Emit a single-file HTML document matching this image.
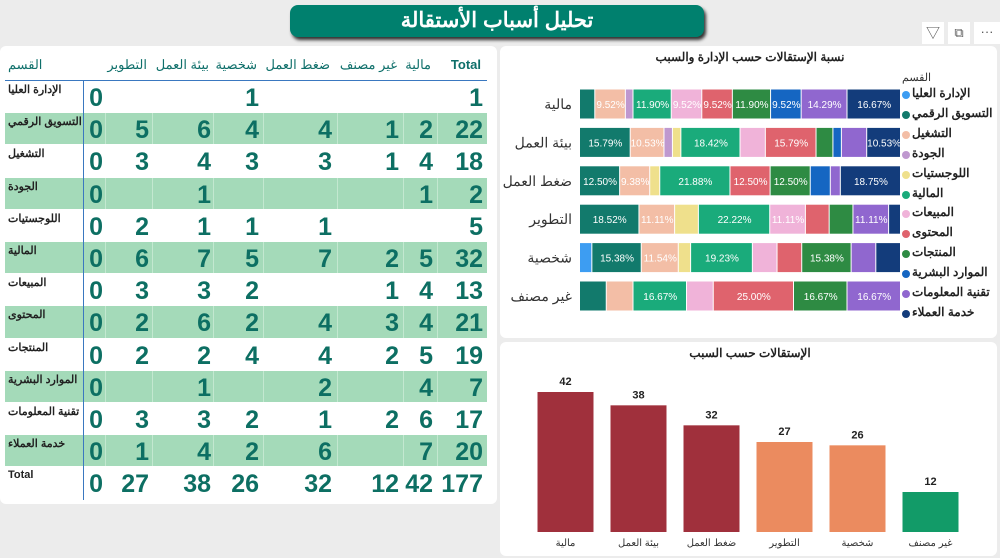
<!DOCTYPE html>
<html><head><meta charset="utf-8"><style>
body{margin:0;width:1000px;height:558px;background:#ececec;position:relative;overflow:hidden;font-family:"Liberation Sans","Noto Sans CJK SC",sans-serif}
.panel{position:absolute;background:#fff;border-radius:6px}
.ab{position:absolute}
</style></head><body>
<div class="ab" style="left:290px;top:5px;width:414px;height:32px;background:#00806e;border-radius:8px;box-shadow:2px 3px 3px #333;color:#fff;font-weight:bold;font-size:21px;text-align:center;line-height:32px;direction:rtl">تحليل أسباب الأستقالة</div>
<div class="ab" style="left:922px;top:22px;width:22px;height:22px;background:#fff;text-align:center;font-size:14px;line-height:22px;color:#555">▽</div>
<div class="ab" style="left:948px;top:22px;width:22px;height:22px;background:#fff;text-align:center;font-size:13px;line-height:22px;color:#555">⧉</div>
<div class="ab" style="left:974px;top:22px;width:26px;height:22px;background:#fff;text-align:center;font-size:13px;line-height:20px;color:#555">···</div>

<div class="panel" style="left:0;top:46px;width:497px;height:458px"></div>
<div class="panel" style="left:500px;top:46px;width:497px;height:292px"></div>
<div class="panel" style="left:500px;top:342px;width:497px;height:214px"></div>

<div id="table" class="ab" style="left:0;top:0;width:500px;height:510px"></div>
<svg id="charts" class="ab" style="left:0;top:0" width="1000" height="558"></svg>
<div id="legend" class="ab" style="left:0;top:0"></div>

<script>
const depts=["الإدارة العليا","التسويق الرقمي","التشغيل","الجودة","اللوجستيات","المالية","المبيعات","المحتوى","المنتجات","الموارد البشرية","تقنية المعلومات","خدمة العملاء"];
const colHeaders=["","التطوير","بيئة العمل","شخصية","ضغط العمل","غير مصنف","مالية","Total"];
const zeroCol=[0,0,0,0,0,0,0,0,0,0,0,0];
const devCol=[null,5,3,null,2,6,3,2,2,null,3,1];
const envCol=[null,6,4,1,1,7,3,6,2,1,3,4];
const persCol=[1,4,3,null,1,5,2,2,4,null,2,2];
const pressCol=[null,4,3,null,1,7,null,4,4,2,1,6];
const uncCol=[null,1,1,null,null,2,1,3,2,null,2,null];
const finCol=[null,2,4,1,null,5,4,4,5,4,6,7];
const deptColors=["#3d9df2","#127a6c","#f3bea6","#bf98cf","#efe08c","#1aab7b","#f0b3d9","#df636d","#2e8b43","#1566c2","#9067cf","#133c7b"];
const reasons=["مالية","بيئة العمل","ضغط العمل","التطوير","شخصية","غير مصنف"];
const reasonTotals=[42,38,32,27,26,12];
const barColors=["#a0303c","#a0303c","#a0303c","#eb8b5f","#eb8b5f","#129b68"];

const cols=[zeroCol,devCol,envCol,persCol,pressCol,uncCol,finCol];
const v=x=>x==null?0:x;
const T=document.getElementById('table');
const colRight=[103,149,211,259,332,399,433,483];
const colLeft=[84,105,152,213,263,337,403,437];
function add(parent,css,txt,name,inter){const d=document.createElement('div');d.style.cssText='position:absolute;'+css;d.textContent=txt;


parent.appendChild(d);return d;}
add(T,'left:8px;top:57px;font-size:13px;color:#0e6f6a;direction:rtl','القسم','header-department',false);
for(let c=1;c<8;c++){add(T,'left:'+(colLeft[c]-10)+'px;width:'+(colRight[c]-colLeft[c]+8)+'px;top:57px;font-size:13px;color:#0e6f6a;text-align:right;direction:rtl;white-space:nowrap;'+(c==7?'font-weight:bold':''),colHeaders[c],'header-col-'+c,false);}
add(T,'left:5px;top:80px;width:482px;height:1px;background:#3a78c0','','header-line',false);
const rowH=32.2;
const rows=depts.concat(["Total"]);
for(let r=0;r<13;r++){
 const top=81+rowH*r;
 if(r%2==1){add(T,'left:5px;top:'+top+'px;width:482px;height:'+(rowH-1)+'px;background:#a4dab9','','row-band-'+r,false);
  for(let c=1;c<8;c++)add(T,'left:'+colLeft[c]+'px;top:'+top+'px;width:1px;height:'+(rowH-1)+'px;background:#c3e8d0','','grid-'+r+'-'+c,false);}
 add(T,'left:8px;top:'+(top+2)+'px;font-size:11px;font-weight:bold;color:#222;direction:rtl;white-space:nowrap',rows[r],'row-label-'+r,false);
 for(let c=0;c<8;c++){
  let val;
  if(r<12){ if(c<7) val=cols[c][r]; else val=cols.reduce((s,a)=>s+v(a[r]),0);}
  else { if(c<7) val=cols[c].reduce((s,x)=>s+v(x),0); else val=cols.reduce((s,a)=>s+a.reduce((t,x)=>t+v(x),0),0);}
  if(val==null) continue;
  add(T,'left:'+(colRight[c]-60)+'px;width:60px;text-align:right;top:'+(top+4)+'px;font-size:25px;font-weight:bold;color:#0d6f63;line-height:27px',String(val),'cell-'+r+'-'+c,false);
 }
}
add(T,'left:83px;top:81px;width:1px;height:419px;background:#3a78c0','','row-header-divider',false);

const S=document.getElementById('charts');const NS='http://www.w3.org/2000/svg';
function el(tag,attrs,txt){const e=document.createElementNS(NS,tag);for(const k in attrs)e.setAttribute(k,attrs[k]);if(txt!=null)e.textContent=txt;S.appendChild(e);return e;}
let t=el('text',{x:750,y:61,'text-anchor':'middle','font-size':12,'font-weight':'bold',fill:'#222',direction:'rtl'},'نسبة الإستقالات حسب الإدارة والسبب');

const reasonCol={"مالية":6,"بيئة العمل":2,"ضغط العمل":4,"التطوير":1,"شخصية":3,"غير مصنف":5};
const x0=580,x1=901;const xs=p=>x0+(x1-x0)*p;
const ys=i=>104+38.4*i;
reasons.forEach((rn,i)=>{
 const col=cols[reasonCol[rn]];const tot=col.reduce((s,x)=>s+v(x),0);
 let lbl=el('text',{x:572,y:ys(i)+5,'text-anchor':'start','font-size':14,fill:'#333',direction:'rtl'},rn);
 
 let acc=0;
 col.forEach((c,d)=>{const n=v(c);if(!n)return;const p0=acc/tot,p1=(acc+n)/tot;acc+=n;
  const r=el('rect',{x:xs(p0),y:ys(i)-14.5,width:xs(p1)-xs(p0)-1,height:29,fill:deptColors[d]});
  
  if(n/tot>0.09){const tx=el('text',{x:(xs(p0)+xs(p1))/2,y:ys(i)+4,'text-anchor':'middle','font-size':10,fill:'#fff'},(n/tot*100).toFixed(2)+'%');
   }
 });
});
const L=document.getElementById('legend');
add(L,'left:902px;top:71px;font-size:11px;color:#333;direction:rtl','القسم','legend-title',false);
depts.forEach((d,k)=>{const y=95+19.9*k;
 add(L,'left:902px;top:'+(y-4)+'px;width:8px;height:8px;border-radius:50%;background:'+deptColors[k],'','legend-dot-'+k,false);
 add(L,'left:912px;top:'+(y-9)+'px;font-size:12px;font-weight:bold;color:#222;direction:rtl;white-space:nowrap',d,'legend-entry-'+k,true);
});
t=el('text',{x:750,y:357,'text-anchor':'middle','font-size':12,'font-weight':'bold',fill:'#222',direction:'rtl'},'الإستقالات حسب السبب');

const base=532,scale=140/42;const bx=i=>565.5+73*i;
reasonTotals.forEach((val,i)=>{
 const h=val*scale;
 const r=el('rect',{x:bx(i)-28,y:base-h,width:56,height:h,fill:barColors[i]});
 
 const tv=el('text',{x:bx(i),y:base-h-7,'text-anchor':'middle','font-size':11,'font-weight':'bold',fill:'#222'},String(val));
 
 const tc=el('text',{x:bx(i),y:546,'text-anchor':'middle','font-size':10,fill:'#333',direction:'rtl'},reasons[i]);
 
});
</script>
</body></html>
